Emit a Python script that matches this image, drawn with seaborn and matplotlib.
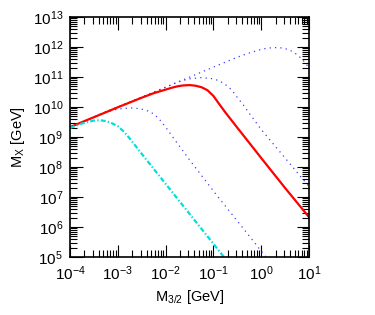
import numpy as np
import pandas as pd
import matplotlib
matplotlib.use("Agg")
import matplotlib.pyplot as plt
import seaborn as sns

# ---- data (log10 values) ----
red_logx = [-4.0, -3.5, -3.0, -2.5, -2.25, -2.0, -1.875, -1.75, -1.625, -1.5, -1.375,
            -1.25, -1.125, -1.0, -0.875, -0.75, -0.5, 0.0, 0.5, 1.0]
red_logy = [9.33, 9.66, 9.99, 10.31, 10.46, 10.58, 10.64, 10.69, 10.72, 10.73, 10.71,
            10.66, 10.56, 10.37, 10.09, 9.82, 9.31, 8.30, 7.30, 6.33]

top_logx = [-4.0, -3.0, -2.0, -1.0, -0.5, -0.25, 0.0, 0.125, 0.25, 0.375, 0.5,
            0.625, 0.75, 0.875, 1.0]
top_logy = [9.33, 10.0, 10.66, 11.33, 11.66, 11.80, 11.92, 11.96, 11.98, 11.98, 11.95,
            11.87, 11.75, 11.56, 11.31]

mid_logx = [-4.0, -3.0, -2.0, -1.75, -1.5, -1.25, -1.0, -0.875, -0.75, -0.625, -0.5,
            -0.375, -0.25, 0.0, 0.5, 1.0]
mid_logy = [9.33, 10.0, 10.66, 10.83, 10.94, 10.98, 10.94, 10.87, 10.75, 10.58, 10.32,
            10.07, 9.79, 9.25, 8.30, 7.35]

low_logx = [-4.0, -3.5, -3.25, -3.0, -2.75, -2.625, -2.5, -2.375, -2.25, -2.125, -2.0,
            -1.75, -1.5, -1.0, -0.5, 0.0, 0.125]
low_logy = [9.33, 9.66, 9.83, 9.93, 9.97, 9.96, 9.93, 9.87, 9.77, 9.58, 9.33,
            8.78, 8.24, 7.20, 6.20, 5.20, 4.95]

cyan_logx = [-4.0, -3.75, -3.5, -3.375, -3.25, -3.125, -3.0, -2.875, -2.75, -2.5,
             -2.0, -1.5, -1.0, -0.75]
cyan_logy = [9.30, 9.45, 9.55, 9.56, 9.53, 9.46, 9.36, 9.18, 8.95, 8.44,
             7.44, 6.44, 5.44, 4.94]

xtick_exp = [-4, -3, -2, -1, 0, 1]
ytick_exp = [5, 6, 7, 8, 9, 10, 11, 12, 13]

# ---- style ----
sns.set_style("ticks")
plt.rcParams["font.family"] = ["Liberation Sans", "DejaVu Sans"]
plt.rcParams["mathtext.default"] = "regular"
plt.rcParams["text.color"] = "black"
plt.rcParams["axes.labelcolor"] = "black"
plt.rcParams["xtick.color"] = "black"
plt.rcParams["ytick.color"] = "black"

fig = plt.figure(figsize=(3.75, 3.15), dpi=100)
ax = fig.add_axes([70 / 375, 1 - 257 / 315, (309 - 70) / 375, (257 - 17) / 315])


def curve(lx, ly):
    return pd.DataFrame({"x": np.power(10.0, lx), "y": np.power(10.0, ly)})


blue = "#3c3cff"
for lx, ly in [(top_logx, top_logy), (mid_logx, mid_logy), (low_logx, low_logy)]:
    sns.lineplot(data=curve(lx, ly), x="x", y="y", ax=ax, color=blue, lw=0.9,
                 sort=False, estimator=None)
    ax.lines[-1].set_dashes((1.0, 3.3))

sns.lineplot(data=curve(red_logx, red_logy), x="x", y="y", ax=ax, color="#ff0000",
             lw=1.6, sort=False, estimator=None)
sns.lineplot(data=curve(cyan_logx, cyan_logy), x="x", y="y", ax=ax, color="#00dede",
             lw=1.6, sort=False, estimator=None)
ax.lines[-1].set_dashes((2.2, 1.0, 0.6, 1.0))

ax.set_xscale("log")
ax.set_yscale("log")
ax.set_xlim(1e-4, 10)
ax.set_ylim(1e5, 1e13)

ax.set_xticks([10.0 ** e for e in xtick_exp])
ax.set_xticklabels([f"10$^{{{e}}}$" for e in xtick_exp])
ax.set_yticks([10.0 ** e for e in ytick_exp])
ax.set_yticklabels([f"10$^{{{e}}}$" for e in ytick_exp])
ax.xaxis.set_minor_locator(matplotlib.ticker.LogLocator(base=10, subs=np.arange(2, 10), numticks=20))
ax.yaxis.set_minor_locator(matplotlib.ticker.LogLocator(base=10, subs=np.arange(2, 10), numticks=20))
ax.xaxis.set_minor_formatter(matplotlib.ticker.NullFormatter())
ax.yaxis.set_minor_formatter(matplotlib.ticker.NullFormatter())

ax.tick_params(which="both", direction="in", top=True, right=True, color="black")
ax.tick_params(which="major", length=9, width=0.8, labelsize=11, pad=5, labelcolor="black")
ax.tick_params(which="minor", length=5, width=0.8)
for s in ax.spines.values():
    s.set_linewidth(1.2)
    s.set_color("black")

ax.set_xlabel("M$_{3/2}$ [GeV]", fontsize=10.5, labelpad=4, color="black")
ax.set_ylabel("M$_{X}$ [GeV]", fontsize=10.5, labelpad=4, color="black")

fig.savefig("out.png", dpi=100)
